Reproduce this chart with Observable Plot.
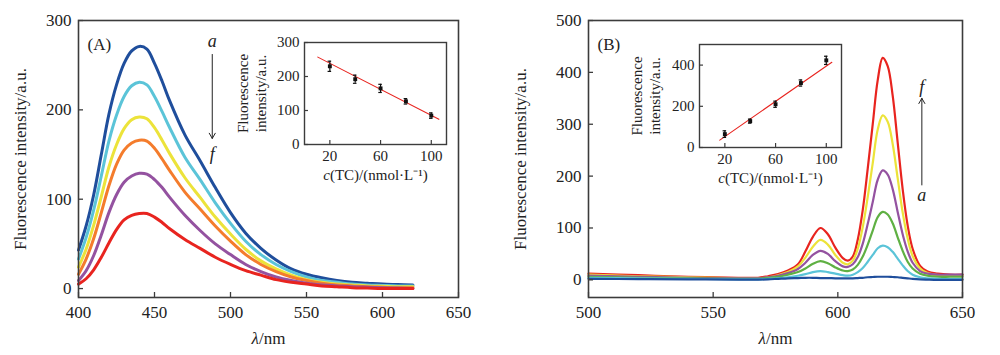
<!DOCTYPE html>
<html><head><meta charset="utf-8">
<script src="https://cdn.jsdelivr.net/npm/d3@7"></script>
<script src="https://cdn.jsdelivr.net/npm/@observablehq/plot@0.6"></script>
<style>
body{margin:0;background:#fff;}
#wrap{position:relative;width:1000px;height:355px;overflow:hidden;background:#fff;}
#wrap svg{position:absolute;background:transparent;}
</style></head><body><div id="wrap"></div>
<script>
// ---------- Panel A data ----------
const wlA = [400,405,410,415,420,425,430,435,440,445,450,455,460,470,480,490,500,510,520,530,540,550,560,570,580,590,600,610,620];
const namesA = ["a","b","c","d","e","f"];
const A_a = [43,70,105,150,195,228,252,266,271,268,252,232,210,172,143,113,85,62,45,32,22,16,12,9,7,6,5,4.5,4];
const A_b = [33,57,88,126,165,194,215,227,231,228,215,198,180,147,122,96,73,53,38,27,19,13,9,7,5,4,3.5,3,3];
const A_c = [24,44,71,103,136,161,179,189,192,190,180,166,151,124,102,80,61,44,31,22,15,10,7,5,4,3,2.5,2,2];
const A_d = [16,33,56,85,115,139,155,163,166,165,157,145,132,108,89,70,53,38,27,19,13,9,6,4,3,2,1.5,1,1];
const A_e = [9,20,37,60,85,105,119,126,129,128,122,113,102,82,65,50,38,27,19,13,9,6,4,3,2,1.5,1,0.5,0];
const A_f = [5,11,21,35,51,66,77,82,84,84,80,74,67,55,45,35,27,20,15,10,7,5,3,2,1,0.5,0,0,0];
const xTicksA = [400,450,500,550,600,650];
const yTicksA = [0,100,200,300];

// ---------- Panel B data ----------
const wlB = [500,520,540,560,568,572,576,580,584,587,590,593,596,599,602,604,606,608,610,612,614,616,618,620,622,624,626,628,630,633,636,640,645,650];
const namesB = ["a","b","c","d","e","f"];
const B_a = [2,1.5,1,0.5,0.5,1,2,3,3.5,4,4,3.5,3.5,3,3,3,3,3.5,4,5,5.5,6,6,6,5.5,5,4,3,2,1,0.5,0,0,0];
const B_b = [4,3,2,1,1,2,3,5,8,11,15,17,15,12,9,8,10,15,23,35,48,61,66,63,54,41,28,17,10,5,3,2,1.5,1.5];
const B_c = [6,4,3,2,2,4,6,10,15,22,31,36,32,24,18,17,20,29,45,68,95,121,131,126,109,82,56,35,22,12,8,6,6,6];
const B_d = [8,6,4,3,3,5,8,13,21,33,48,56,50,36,26,25,30,44,70,108,150,193,211,203,175,131,88,55,33,17,12,10,10,10];
const B_e = [10,7,5,3,3,5,9,15,26,43,64,77,68,48,33,30,37,60,102,160,225,290,317,305,262,196,130,80,46,22,13,9,8,8];
const B_f = [12,9,6,4,4,7,11,18,30,55,83,100,88,62,42,37,45,78,135,215,300,385,428,412,355,265,175,105,60,27,16,12,10,10];
const xTicksB = [500,550,600,650];
const yTicksB = [0,100,200,300,400,500];

// ---------- Inset data ----------
const concA = [20,40,60,80,100];
const intA = [230,192,165,127,85];
const errA = [15,12,12,8,8];
const fitAx = [10.5,106];
const fitAy = [257,74];
const concB = [20,40,60,80,100];
const intB = [65,128,210,313,423];
const errB = [16,10,15,15,20];
const fitBx = [16,104.4];
const fitBy = [36,414];
const insetXTicks = [20,60,100];
const insetYTicksA = [0,100,200,300];
const insetYTicksB = [0,200,400];

// ---------- styles ----------
const colorsA = ["#1f4e9c","#5bc4d8","#ece33a","#f47c2c","#9452a0","#e8241f"];
const colorsB = ["#1f4e9c","#5bc4d8","#5fb043","#9452a0","#ece33a","#e8241f"];
const serif = '"Liberation Serif","Times New Roman",serif';
const ink = "#222";
const frameCol = "#3c3c3c";
const ns = "http://www.w3.org/2000/svg";

function longTable(wl, list, names){
  return names.flatMap((n,i)=> wl.map((w,j)=>({wl:w, v:list[i][j], s:n})));
}
function pts(xs, ys, es){ return xs.map((x,i)=>({x, y:ys[i], e: es ? es[i] : 0})); }

function italicize(svg, full, n){
  svg.querySelectorAll("text").forEach(t=>{
    if (t.textContent === full){
      t.textContent = "";
      const a = document.createElementNS(ns,"tspan");
      a.setAttribute("font-style","italic");
      a.textContent = full.slice(0,n);
      t.appendChild(a);
      t.appendChild(document.createTextNode(full.slice(n)));
    }
  });
}
function place(svg, left, top){
  svg.style.left = left + "px"; svg.style.top = top + "px";
  document.getElementById("wrap").appendChild(svg);
}

function mainPanel({W, H, mL, mR, mT, mB, xDom, yDom, xTicks, yTicks, data, names, colors, sw, label, ann}){
  const fw = W - mL - mR, fh = H - mT - mB;
  return Plot.plot({
    width: W, height: H, marginLeft: mL, marginRight: mR, marginTop: mT, marginBottom: mB,
    style: {fontFamily: serif, fontSize: "17px", background: "transparent", color: ink, overflow: "visible"},
    x: {domain: xDom}, y: {domain: yDom},
    color: {domain: names, range: colors},
    marks: [
      Plot.line(data, {x: "wl", y: "v", z: "s", stroke: "s", strokeWidth: sw, curve: "catmull-rom"}),
      Plot.tickX(xTicks, {x: d=>d, insetTop: fh - 5, stroke: frameCol, strokeWidth: 1.3}),
      Plot.tickY(yTicks, {y: d=>d, insetRight: fw - 5, stroke: frameCol, strokeWidth: 1.3}),
      Plot.axisX(xTicks, {tickSize: 0, tickPadding: 8, label: null, fontSize: 17, fill: ink}),
      Plot.axisY(yTicks, {tickSize: 0, tickPadding: 7, label: null, fontSize: 17, fill: ink}),
      Plot.frame({stroke: frameCol, strokeWidth: 1.6}),
      Plot.text(["Fluorescence intensity/a.u."], {frameAnchor: "left", dx: -(mL - 20), rotate: -90, textAnchor: "middle", fontSize: 17, fill: ink}),
      Plot.text(["λ/nm"], {frameAnchor: "bottom", dy: 46, fontSize: 17, fill: ink}),
      Plot.text([label], {frameAnchor: "top-left", dx: 9, dy: 17, fontSize: 17, fill: ink, textAnchor: "start"}),
      Plot.arrow([ann], {x1: "x", y1: "y1", x2: "x", y2: "y2", stroke: ink, strokeWidth: 1, headLength: 9}),
      Plot.text([ann], {x: "x", y: "ya", text: d=>d.ta, fontSize: 18, fontStyle: "italic", fill: ink}),
      Plot.text([ann], {x: "x", y: "yb", text: d=>d.tb, fontSize: 18, fontStyle: "italic", fill: ink})
    ]
  });
}

function inset({W, H, mL, mR, mT, mB, yDom, yTicks, p, fx, fy, titleDx}){
  const fw = W - mL - mR, fh = H - mT - mB;
  const fit = pts(fx, fy);
  return Plot.plot({
    width: W, height: H, marginLeft: mL, marginRight: mR, marginTop: mT, marginBottom: mB,
    style: {fontFamily: serif, fontSize: "15px", background: "transparent", color: ink, overflow: "visible"},
    x: {domain: [0, 112]}, y: {domain: yDom},
    marks: [
      Plot.line(fit, {x: "x", y: "y", stroke: "#e8241f", strokeWidth: 1.1}),
      Plot.ruleX(p, {x: "x", y1: d=>d.y - d.e, y2: d=>d.y + d.e, stroke: "#111", strokeWidth: 1.2}),
      Plot.ruleY(p, {y: d=>d.y - d.e, x1: d=>d.x - 1.4, x2: d=>d.x + 1.4, stroke: "#111", strokeWidth: 1.2}),
      Plot.ruleY(p, {y: d=>d.y + d.e, x1: d=>d.x - 1.4, x2: d=>d.x + 1.4, stroke: "#111", strokeWidth: 1.2}),
      Plot.dot(p, {x: "x", y: "y", symbol: "square", r: 2.2, fill: "#111"}),
      Plot.tickX(insetXTicks, {x: d=>d, insetTop: fh - 4, stroke: frameCol, strokeWidth: 1.2}),
      Plot.tickY(yTicks, {y: d=>d, insetRight: fw - 4, stroke: frameCol, strokeWidth: 1.2}),
      Plot.axisX(insetXTicks, {tickSize: 0, tickPadding: 6, label: null, fontSize: 15, fill: ink}),
      Plot.axisY(yTicks, {tickSize: 0, tickPadding: 5, label: null, fontSize: 15, fill: ink}),
      Plot.frame({stroke: frameCol, strokeWidth: 1.4}),
      Plot.text(["Fluorescence\nintensity/a.u."], {frameAnchor: "left", dx: titleDx, rotate: -90, textAnchor: "middle", fontSize: 15, lineHeight: 1.2, fill: ink}),
      Plot.text(["c(TC)/(nmol·L⁻¹)"], {frameAnchor: "bottom", dy: 35, fontSize: 15, fill: ink})
    ]
  });
}

const dataA = longTable(wlA, [A_a,A_b,A_c,A_d,A_e,A_f], namesA);
const dataB = longTable(wlB, [B_a,B_b,B_c,B_d,B_e,B_f], namesB);

const svgA = mainPanel({W: 500, H: 355, mL: 78, mR: 42, mT: 20, mB: 58,
  xDom: [400,650], yDom: [-10,300], xTicks: xTicksA, yTicks: yTicksA,
  data: dataA, names: namesA, colors: colorsA, sw: 3, label: "(A)",
  ann: {x: 488, y1: 262, y2: 168, ya: 277, yb: 150, ta: "a", tb: "f"}});
const svgB = mainPanel({W: 500, H: 355, mL: 88, mR: 38, mT: 20, mB: 58,
  xDom: [500,650], yDom: [-34,500], xTicks: xTicksB, yTicks: yTicksB,
  data: [...dataB].reverse(), names: namesB, colors: colorsB, sw: 2.2, label: "(B)",
  ann: {x: 633.7, y1: 183, y2: 350, ya: 372, yb: 163, ta: "f", tb: "a"}});

const insA = inset({W: 225, H: 160, mL: 74, mR: 9, mT: 12, mB: 46,
  yDom: [0,300], yTicks: insetYTicksA, p: pts(concA, intA, errA), fx: fitAx, fy: fitAy, titleDx: -53});
const insB = inset({W: 225, H: 165, mL: 69, mR: 14, mT: 14, mB: 48,
  yDom: [0,500], yTicks: insetYTicksB, p: pts(concB, intB, errB), fx: fitBx, fy: fitBy, titleDx: -54});

place(svgA, 0, 0);
place(svgB, 500, 0);
place(insA, 230, 30);
place(insB, 630, 30);
[svgA, svgB].forEach(s => italicize(s, "λ/nm", 1));
[insA, insB].forEach(s => italicize(s, "c(TC)/(nmol·L⁻¹)", 1));
</script>
</body></html>
